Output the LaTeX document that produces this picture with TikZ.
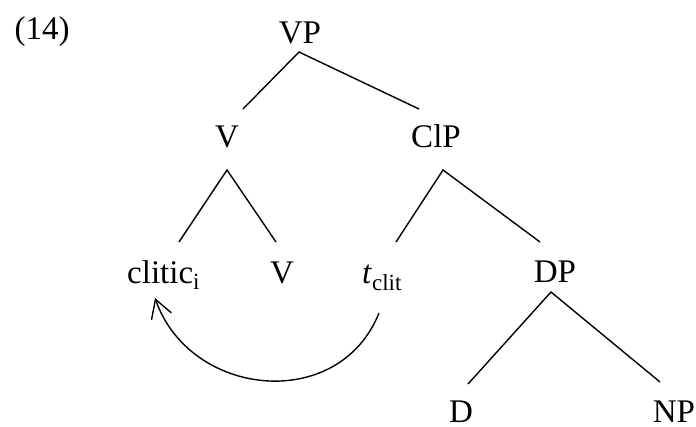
\documentclass[tikz,border=0pt]{standalone}
\usepackage{fontspec}
\setmainfont{Liberation Serif}
\usetikzlibrary{arrows.meta}
\begin{document}
\begin{tikzpicture}[x=1pt,y=-1pt,
  lbl/.style={anchor=base,inner sep=0pt,font=\fontsize{33}{40}\selectfont},
  branch/.style={line width=1.4pt},
  move/.style={line width=1.4pt,-{Straight Barb[length=18pt,width=21pt,line width=1.4pt]}}]
\useasboundingbox (0,0) rectangle (696,426);
% labels
\node[lbl] (ex) at (42,39) {(14)};
\node[lbl] (VP) at (300,43) {VP};
\node[lbl] (V1) at (227,147) {V};
\node[lbl] (ClP) at (436,147) {ClP};
\node[lbl,anchor=base west] (cl) at (127,283) {clitic\textsubscript{i}};
\node[lbl] (V2) at (282,283) {V};
\node[lbl,anchor=base west] (t) at (362,283) {\textit{t}\textsubscript{clit}};
\node[lbl] (DP) at (555,282) {DP};
\node[lbl,text depth=0pt] (D) at (461,422) {D};
\node[lbl,text depth=0pt] (NP) at (674,422) {NP};
% branch end points
\coordinate (VPb) at (299,52);
\coordinate (V1t) at (243,109);
\coordinate (ClPt) at (419,109);
\coordinate (V1b) at (227,170);
\coordinate (clt) at (179,242);
\coordinate (V2t) at (276,242);
\coordinate (ClPb) at (443,170);
\coordinate (tt) at (396,242);
\coordinate (DPt) at (540,242);
\coordinate (DPb) at (551,292);
\coordinate (Dt) at (468,384);
\coordinate (NPt) at (660,382);
\coordinate (tb) at (379,313);
\coordinate (clb) at (155,298);
% branches
\draw[branch] (V1t) -- (VPb) -- (ClPt);
\draw[branch] (clt) -- (V1b) -- (V2t);
\draw[branch] (tt) -- (ClPb) -- (DPt);
\draw[branch] (Dt) -- (DPb) -- (NPt);
% movement arrow
\draw[move] (tb) .. controls (339,413) and (190,398) .. (clb);
\end{tikzpicture}
\end{document}
